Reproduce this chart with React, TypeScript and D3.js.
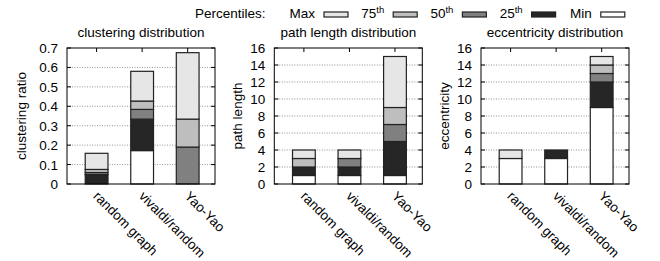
import * as d3 from "d3";

// categories and percentile series
const categories: string[] = ["random graph", "vivaldi/random", "Yao-Yao"];

const clusteringMin: number[] = [0, 0.172, 0];
const clustering25: number[] = [0.048, 0.334, 0];
const clustering50: number[] = [0.059, 0.384, 0.19];
const clustering75: number[] = [0.075, 0.427, 0.334];
const clusteringMax: number[] = [0.158, 0.58, 0.676];

const pathMin: number[] = [1, 1, 1];
const path25: number[] = [2, 2, 5];
const path50: number[] = [2, 3, 7];
const path75: number[] = [3, 3, 9];
const pathMax: number[] = [4, 4, 15];

const eccMin: number[] = [3, 3, 9];
const ecc25: number[] = [3, 4, 12];
const ecc50: number[] = [3, 4, 13];
const ecc75: number[] = [3, 4, 14];
const eccMax: number[] = [4, 4, 15];

const clusteringTicks: number[] = [0, 0.1, 0.2, 0.3, 0.4, 0.5, 0.6, 0.7];
const lengthTicks: number[] = [0, 2, 4, 6, 8, 10, 12, 14, 16];

const legendLabels: string[] = ["Max", "75", "50", "25", "Min"];
const legendSup: string[] = ["", "th", "th", "th", ""];

const FONT = "'Liberation Sans', Arial, Helvetica, sans-serif";
// fill of each stacked segment: Min, 25th, 50th, 75th, Max
const segColors = ["#ffffff", "#262626", "#808080", "#bebebe", "#e6e6e6"];
const legendColors = ["#e6e6e6", "#bebebe", "#808080", "#262626", "#ffffff"];

interface PanelProps {
  left: number;
  title: string;
  ylabel: string;
  ylabelDx: number;
  yMax: number;
  ticks: number[];
  fmt: (v: number) => string;
  series: number[][]; // [min, 25th, 50th, 75th, max]
}

const top = 48;
const bottom = 184;
const plotW = 148;

function Panel({ left, title, ylabel, ylabelDx, yMax, ticks, fmt, series }: PanelProps) {
  const x = d3.scaleLinear().domain([-0.65, 2.6]).range([left, left + plotW]);
  const y = d3.scaleLinear().domain([0, yMax]).range([bottom, top]);
  const barW = x(0.25) - x(-0.25);
  const right = left + plotW;

  return (
    <g>
      <text x={(left + right) / 2} y={37} textAnchor="middle" fontSize={13.5}>
        {title}
      </text>
      {/* grid */}
      {ticks.slice(1, -1).map((t) => (
        <line key={"g" + t} x1={left} x2={right} y1={y(t)} y2={y(t)}
          stroke="#777" strokeWidth={0.8} strokeDasharray="1,1.5" />
      ))}
      {/* tick marks + labels */}
      {ticks.map((t) => (
        <g key={"t" + t}>
          <line x1={left} x2={left + 4} y1={y(t)} y2={y(t)} stroke="#000" />
          <line x1={right - 4} x2={right} y1={y(t)} y2={y(t)} stroke="#000" />
          <text x={left - 9} y={y(t) + 5} textAnchor="end" fontSize={13.5}>
            {fmt(t)}
          </text>
        </g>
      ))}
      {categories.map((c, i) => (
        <line key={"xt" + c} x1={x(i)} x2={x(i)} y1={top} y2={top + 4} stroke="#000" />
      ))}
      {/* stacked bars */}
      {categories.map((c, i) =>
        series.map((s, k) => {
          const lo = k === 0 ? 0 : series[k - 1][i];
          const hi = s[i];
          if (hi - lo <= 0) return null;
          return (
            <rect key={c + k} x={x(i) - barW / 2} y={y(hi)} width={barW}
              height={y(lo) - y(hi)} fill={segColors[k]} stroke="#222" strokeWidth={1.2} />
          );
        })
      )}
      <rect x={left} y={top} width={plotW} height={bottom - top} fill="none" stroke="#000" strokeWidth={1} />
      {categories.map((c, i) => (
        <text key={"xl" + c} transform={`translate(${x(i) - 4},${197}) rotate(45)`} fontSize={13.5}>
          {c}
        </text>
      ))}
      <text transform={`translate(${left + ylabelDx},${(top + bottom) / 2}) rotate(-90)`} textAnchor="middle" fontSize={13.5}>
        {ylabel}
      </text>
    </g>
  );
}

export default function App() {
  return (
    <svg width={660} height={261} style={{ position: "absolute", left: 0, top: 0, background: "#fff" }}
      fontFamily={FONT} fill="#000">
      <text x={195} y={18} fontSize={13.5}>Percentiles:</text>
      {legendLabels.map((l, i) => {
        const sx = 324 + i * 69.2;
        return (
          <g key={"lg" + l}>
            <text x={sx - 9} y={18} textAnchor="end" fontSize={13.5}>
              {l}
              {legendSup[i] && (
                <tspan fontSize={9.5} dy={-5}>{legendSup[i]}</tspan>
              )}
            </text>
            <rect x={sx} y={12} width={24} height={5} fill={legendColors[i]} stroke="#222" strokeWidth={1.2} />
          </g>
        );
      })}
      <Panel left={67} title="clustering distribution" ylabel="clustering ratio" ylabelDx={-41}
        yMax={0.7} ticks={clusteringTicks} fmt={(v) => (v === 0 ? "0" : v.toFixed(1))}
        series={[clusteringMin, clustering25, clustering50, clustering75, clusteringMax]} />
      <Panel left={274.3} title="path length distribution" ylabel="path length" ylabelDx={-32}
        yMax={16} ticks={lengthTicks} fmt={(v) => String(v)}
        series={[pathMin, path25, path50, path75, pathMax]} />
      <Panel left={481} title="eccentricity distribution" ylabel="eccentricity" ylabelDx={-32}
        yMax={16} ticks={lengthTicks} fmt={(v) => String(v)}
        series={[eccMin, ecc25, ecc50, ecc75, eccMax]} />
    </svg>
  );
}
